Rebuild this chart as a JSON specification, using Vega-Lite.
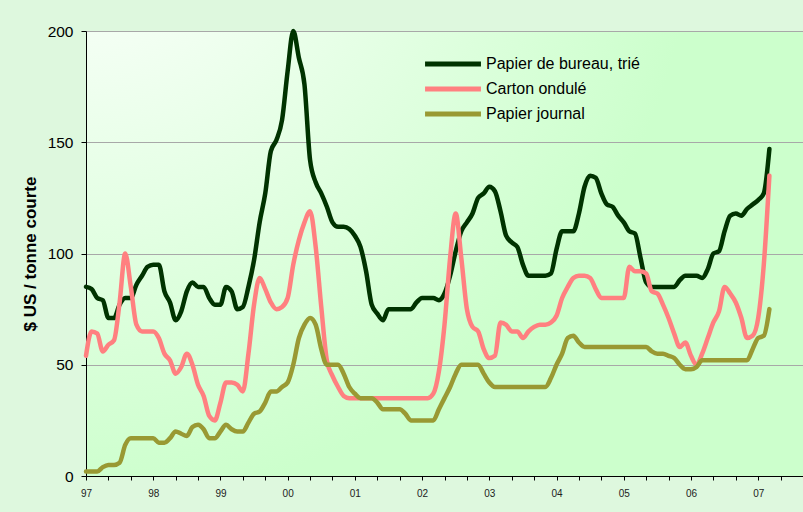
{
  "$schema": "https://vega.github.io/schema/vega-lite/v6.json",
  "width": 717,
  "height": 445,
  "autosize": "none",
  "padding": {"left": 86, "top": 31, "right": 0, "bottom": 36},
  "background": "#def8de",
  "config": {
    "font": "Liberation Sans",
    "view": {
      "stroke": null,
      "fill": {"gradient": "radial", "x1": 0, "y1": 0, "r1": 0, "x2": 0, "y2": 0, "r2": 1,
        "stops": [{"offset": 0, "color": "#ffffff"}, {"offset": 0.85, "color": "#ccffcc"}]}
    }
  },
  "data": {"values": [
    {"m":0,"Papier de bureau, trié":85,"Carton ondulé":54,"Papier journal":2},
    {"m":1,"Papier de bureau, trié":84,"Carton ondulé":65,"Papier journal":2},
    {"m":2,"Papier de bureau, trié":80,"Carton ondulé":64,"Papier journal":2},
    {"m":3,"Papier de bureau, trié":79,"Carton ondulé":56,"Papier journal":4},
    {"m":4,"Papier de bureau, trié":71,"Carton ondulé":59,"Papier journal":5},
    {"m":5,"Papier de bureau, trié":71,"Carton ondulé":61,"Papier journal":5},
    {"m":6,"Papier de bureau, trié":77,"Carton ondulé":78,"Papier journal":6},
    {"m":7,"Papier de bureau, trié":80,"Carton ondulé":100,"Papier journal":14},
    {"m":8,"Papier de bureau, trié":80,"Carton ondulé":85,"Papier journal":17},
    {"m":9,"Papier de bureau, trié":86,"Carton ondulé":68,"Papier journal":17},
    {"m":10,"Papier de bureau, trié":90,"Carton ondulé":65,"Papier journal":17},
    {"m":11,"Papier de bureau, trié":94,"Carton ondulé":65,"Papier journal":17},
    {"m":12,"Papier de bureau, trié":95,"Carton ondulé":65,"Papier journal":17},
    {"m":13,"Papier de bureau, trié":95,"Carton ondulé":62,"Papier journal":15},
    {"m":14,"Papier de bureau, trié":83,"Carton ondulé":55,"Papier journal":15},
    {"m":15,"Papier de bureau, trié":78,"Carton ondulé":52,"Papier journal":17},
    {"m":16,"Papier de bureau, trié":70,"Carton ondulé":46,"Papier journal":20},
    {"m":17,"Papier de bureau, trié":74,"Carton ondulé":49,"Papier journal":19},
    {"m":18,"Papier de bureau, trié":83,"Carton ondulé":55,"Papier journal":18},
    {"m":19,"Papier de bureau, trié":87,"Carton ondulé":50,"Papier journal":22},
    {"m":20,"Papier de bureau, trié":85,"Carton ondulé":41,"Papier journal":23},
    {"m":21,"Papier de bureau, trié":85,"Carton ondulé":36,"Papier journal":21},
    {"m":22,"Papier de bureau, trié":80,"Carton ondulé":27,"Papier journal":17},
    {"m":23,"Papier de bureau, trié":77,"Carton ondulé":25,"Papier journal":17},
    {"m":24,"Papier de bureau, trié":77,"Carton ondulé":33,"Papier journal":20},
    {"m":25,"Papier de bureau, trié":85,"Carton ondulé":42,"Papier journal":23},
    {"m":26,"Papier de bureau, trié":83,"Carton ondulé":42,"Papier journal":21},
    {"m":27,"Papier de bureau, trié":75,"Carton ondulé":41,"Papier journal":20},
    {"m":28,"Papier de bureau, trié":76,"Carton ondulé":38,"Papier journal":20},
    {"m":29,"Papier de bureau, trié":85,"Carton ondulé":55,"Papier journal":24},
    {"m":30,"Papier de bureau, trié":97,"Carton ondulé":77,"Papier journal":28},
    {"m":31,"Papier de bureau, trié":114,"Carton ondulé":89,"Papier journal":29},
    {"m":32,"Papier de bureau, trié":127,"Carton ondulé":84,"Papier journal":33},
    {"m":33,"Papier de bureau, trié":146,"Carton ondulé":78,"Papier journal":38},
    {"m":34,"Papier de bureau, trié":151,"Carton ondulé":75,"Papier journal":38},
    {"m":35,"Papier de bureau, trié":160,"Carton ondulé":76,"Papier journal":40},
    {"m":36,"Papier de bureau, trié":182,"Carton ondulé":80,"Papier journal":42},
    {"m":37,"Papier de bureau, trié":200,"Carton ondulé":95,"Papier journal":50},
    {"m":38,"Papier de bureau, trié":188,"Carton ondulé":106,"Papier journal":62},
    {"m":39,"Papier de bureau, trié":176,"Carton ondulé":114,"Papier journal":68},
    {"m":40,"Papier de bureau, trié":142,"Carton ondulé":119,"Papier journal":71},
    {"m":41,"Papier de bureau, trié":132,"Carton ondulé":103,"Papier journal":68},
    {"m":42,"Papier de bureau, trié":127,"Carton ondulé":76,"Papier journal":57},
    {"m":43,"Papier de bureau, trié":121,"Carton ondulé":52,"Papier journal":50},
    {"m":44,"Papier de bureau, trié":114,"Carton ondulé":45,"Papier journal":50},
    {"m":45,"Papier de bureau, trié":112,"Carton ondulé":40,"Papier journal":50},
    {"m":46,"Papier de bureau, trié":112,"Carton ondulé":36,"Papier journal":46},
    {"m":47,"Papier de bureau, trié":111,"Carton ondulé":35,"Papier journal":40},
    {"m":48,"Papier de bureau, trié":108,"Carton ondulé":35,"Papier journal":37},
    {"m":49,"Papier de bureau, trié":103,"Carton ondulé":35,"Papier journal":35},
    {"m":50,"Papier de bureau, trié":92,"Carton ondulé":35,"Papier journal":35},
    {"m":51,"Papier de bureau, trié":77,"Carton ondulé":35,"Papier journal":35},
    {"m":52,"Papier de bureau, trié":73,"Carton ondulé":35,"Papier journal":33},
    {"m":53,"Papier de bureau, trié":70,"Carton ondulé":35,"Papier journal":30},
    {"m":54,"Papier de bureau, trié":75,"Carton ondulé":35,"Papier journal":30},
    {"m":55,"Papier de bureau, trié":75,"Carton ondulé":35,"Papier journal":30},
    {"m":56,"Papier de bureau, trié":75,"Carton ondulé":35,"Papier journal":30},
    {"m":57,"Papier de bureau, trié":75,"Carton ondulé":35,"Papier journal":28},
    {"m":58,"Papier de bureau, trié":75,"Carton ondulé":35,"Papier journal":25},
    {"m":59,"Papier de bureau, trié":78,"Carton ondulé":35,"Papier journal":25},
    {"m":60,"Papier de bureau, trié":80,"Carton ondulé":35,"Papier journal":25},
    {"m":61,"Papier de bureau, trié":80,"Carton ondulé":35,"Papier journal":25},
    {"m":62,"Papier de bureau, trié":80,"Carton ondulé":37,"Papier journal":25},
    {"m":63,"Papier de bureau, trié":79,"Carton ondulé":47,"Papier journal":30},
    {"m":64,"Papier de bureau, trié":82,"Carton ondulé":68,"Papier journal":35},
    {"m":65,"Papier de bureau, trié":90,"Carton ondulé":98,"Papier journal":40},
    {"m":66,"Papier de bureau, trié":101,"Carton ondulé":118,"Papier journal":46},
    {"m":67,"Papier de bureau, trié":110,"Carton ondulé":98,"Papier journal":50},
    {"m":68,"Papier de bureau, trié":114,"Carton ondulé":75,"Papier journal":50},
    {"m":69,"Papier de bureau, trié":118,"Carton ondulé":67,"Papier journal":50},
    {"m":70,"Papier de bureau, trié":125,"Carton ondulé":65,"Papier journal":50},
    {"m":71,"Papier de bureau, trié":127,"Carton ondulé":57,"Papier journal":46},
    {"m":72,"Papier de bureau, trié":130,"Carton ondulé":53,"Papier journal":42},
    {"m":73,"Papier de bureau, trié":128,"Carton ondulé":54,"Papier journal":40},
    {"m":74,"Papier de bureau, trié":119,"Carton ondulé":69,"Papier journal":40},
    {"m":75,"Papier de bureau, trié":108,"Carton ondulé":68,"Papier journal":40},
    {"m":76,"Papier de bureau, trié":105,"Carton ondulé":65,"Papier journal":40},
    {"m":77,"Papier de bureau, trié":103,"Carton ondulé":65,"Papier journal":40},
    {"m":78,"Papier de bureau, trié":95,"Carton ondulé":62,"Papier journal":40},
    {"m":79,"Papier de bureau, trié":90,"Carton ondulé":65,"Papier journal":40},
    {"m":80,"Papier de bureau, trié":90,"Carton ondulé":67,"Papier journal":40},
    {"m":81,"Papier de bureau, trié":90,"Carton ondulé":68,"Papier journal":40},
    {"m":82,"Papier de bureau, trié":90,"Carton ondulé":68,"Papier journal":40},
    {"m":83,"Papier de bureau, trié":91,"Carton ondulé":69,"Papier journal":44},
    {"m":84,"Papier de bureau, trié":102,"Carton ondulé":72,"Papier journal":50},
    {"m":85,"Papier de bureau, trié":110,"Carton ondulé":80,"Papier journal":55},
    {"m":86,"Papier de bureau, trié":110,"Carton ondulé":85,"Papier journal":62},
    {"m":87,"Papier de bureau, trié":110,"Carton ondulé":89,"Papier journal":63},
    {"m":88,"Papier de bureau, trié":118,"Carton ondulé":90,"Papier journal":60},
    {"m":89,"Papier de bureau, trié":130,"Carton ondulé":90,"Papier journal":58},
    {"m":90,"Papier de bureau, trié":135,"Carton ondulé":89,"Papier journal":58},
    {"m":91,"Papier de bureau, trié":134,"Carton ondulé":84,"Papier journal":58},
    {"m":92,"Papier de bureau, trié":127,"Carton ondulé":80,"Papier journal":58},
    {"m":93,"Papier de bureau, trié":122,"Carton ondulé":80,"Papier journal":58},
    {"m":94,"Papier de bureau, trié":121,"Carton ondulé":80,"Papier journal":58},
    {"m":95,"Papier de bureau, trié":117,"Carton ondulé":80,"Papier journal":58},
    {"m":96,"Papier de bureau, trié":114,"Carton ondulé":80,"Papier journal":58},
    {"m":97,"Papier de bureau, trié":110,"Carton ondulé":94,"Papier journal":58},
    {"m":98,"Papier de bureau, trié":109,"Carton ondulé":92,"Papier journal":58},
    {"m":99,"Papier de bureau, trié":98,"Carton ondulé":92,"Papier journal":58},
    {"m":100,"Papier de bureau, trié":87,"Carton ondulé":91,"Papier journal":58},
    {"m":101,"Papier de bureau, trié":85,"Carton ondulé":83,"Papier journal":56},
    {"m":102,"Papier de bureau, trié":85,"Carton ondulé":82,"Papier journal":55},
    {"m":103,"Papier de bureau, trié":85,"Carton ondulé":77,"Papier journal":55},
    {"m":104,"Papier de bureau, trié":85,"Carton ondulé":71,"Papier journal":54},
    {"m":105,"Papier de bureau, trié":85,"Carton ondulé":64,"Papier journal":53},
    {"m":106,"Papier de bureau, trié":88,"Carton ondulé":58,"Papier journal":50},
    {"m":107,"Papier de bureau, trié":90,"Carton ondulé":60,"Papier journal":48},
    {"m":108,"Papier de bureau, trié":90,"Carton ondulé":54,"Papier journal":48},
    {"m":109,"Papier de bureau, trié":90,"Carton ondulé":50,"Papier journal":49},
    {"m":110,"Papier de bureau, trié":89,"Carton ondulé":55,"Papier journal":52},
    {"m":111,"Papier de bureau, trié":93,"Carton ondulé":62,"Papier journal":52},
    {"m":112,"Papier de bureau, trié":100,"Carton ondulé":69,"Papier journal":52},
    {"m":113,"Papier de bureau, trié":101,"Carton ondulé":74,"Papier journal":52},
    {"m":114,"Papier de bureau, trié":110,"Carton ondulé":85,"Papier journal":52},
    {"m":115,"Papier de bureau, trié":117,"Carton ondulé":82,"Papier journal":52},
    {"m":116,"Papier de bureau, trié":118,"Carton ondulé":78,"Papier journal":52},
    {"m":117,"Papier de bureau, trié":117,"Carton ondulé":71,"Papier journal":52},
    {"m":118,"Papier de bureau, trié":120,"Carton ondulé":62,"Papier journal":52},
    {"m":119,"Papier de bureau, trié":122,"Carton ondulé":63,"Papier journal":57},
    {"m":120,"Papier de bureau, trié":124,"Carton ondulé":71,"Papier journal":62},
    {"m":121,"Papier de bureau, trié":127,"Carton ondulé":95,"Papier journal":63},
    {"m":122,"Papier de bureau, trié":147,"Carton ondulé":135,"Papier journal":75}
  ]},
  "transform": [
    {"fold": ["Papier de bureau, trié", "Carton ondulé", "Papier journal"], "as": ["serie", "valeur"]}
  ],
  "mark": {"type": "line", "interpolate": "monotone", "strokeWidth": 4.5, "strokeCap": "round", "strokeJoin": "round"},
  "encoding": {
    "x": {
      "field": "m", "type": "quantitative",
      "scale": {"domain": [0, 128], "nice": false, "zero": false},
      "axis": {
        "title": null,
        "grid": false,
        "values": [0,4,8,12,16,20,24,28,32,36,40,44,48,52,56,60,64,68,72,76,80,84,88,92,96,100,104,108,112,116,120,124,128],
        "labelExpr": "datum.value % 12 == 0 ? slice('0' + toString((97 + datum.value / 12) % 100), -2) : ''",
        "labelFont": "Liberation Sans Narrow, Liberation Sans",
        "labelFontSize": 10,
        "labelColor": "#222222",
        "labelPadding": 8,
        "tickSize": 4,
        "tickColor": "#000000",
        "domainColor": "#000000",
        "labelFlush": false,
        "labelOverlap": false
      }
    },
    "y": {
      "field": "valeur", "type": "quantitative",
      "scale": {"domain": [0, 200], "nice": false},
      "axis": {
        "title": "$ US / tonne courte",
        "titleFontSize": 17,
        "titleFontWeight": "bold",
        "titleColor": "#000000",
        "titlePadding": 8,
        "values": [0, 50, 100, 150, 200],
        "labelFontSize": 15.5,
        "labelColor": "#000000",
        "labelPadding": 8,
        "tickSize": 5,
        "tickColor": "#000000",
        "domainColor": "#000000",
        "gridColor": "#a8a8a8",
        "gridWidth": 1
      }
    },
    "color": {
      "field": "serie", "type": "nominal",
      "scale": {"domain": ["Papier de bureau, trié", "Carton ondulé", "Papier journal"], "range": ["#003300", "#ff8080", "#999933"]},
      "legend": {
        "title": null,
        "orient": "none",
        "legendX": 358,
        "legendY": 24,
        "symbolType": "M-4.3,0H4.3",
        "symbolSize": 169,
        "symbolStrokeWidth": 5,
        "labelFontSize": 16,
        "labelColor": "#000000",
        "labelOffset": 24,
        "rowPadding": 5
      }
    }
  }
}
